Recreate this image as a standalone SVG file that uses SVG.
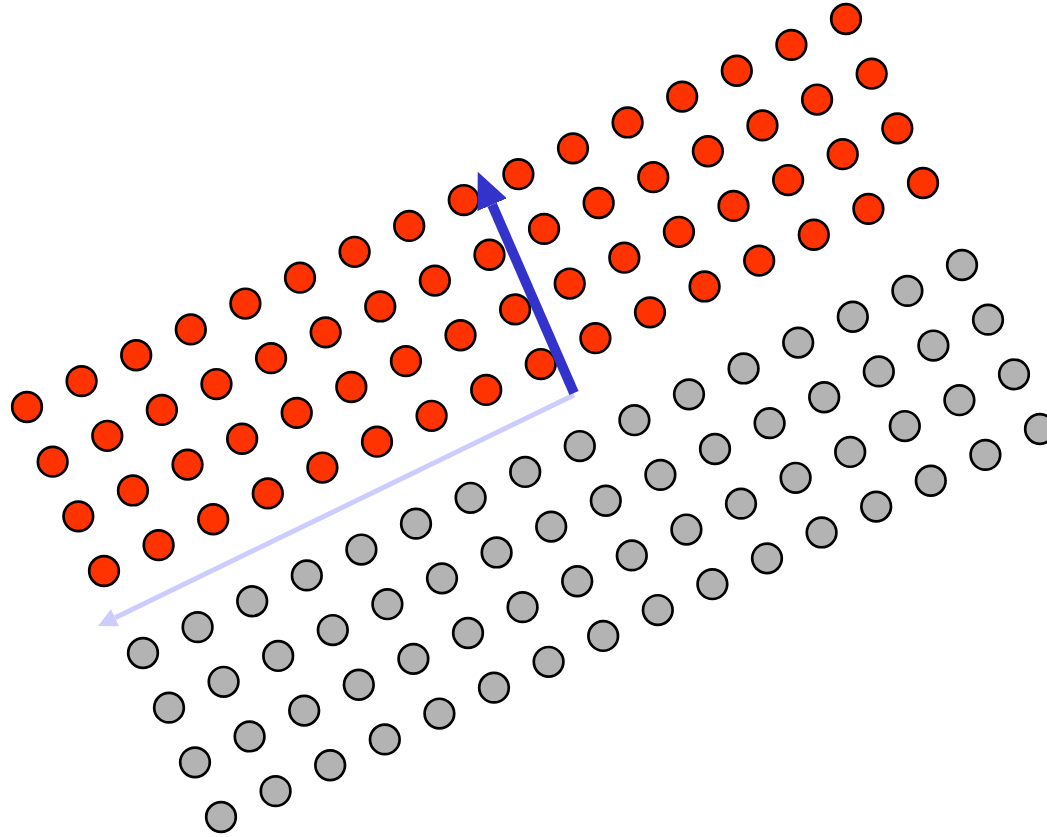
<svg xmlns="http://www.w3.org/2000/svg" xmlns:xlink="http://www.w3.org/1999/xlink" width="1047" height="837" viewBox="0 0 1047 837">
<style>
circle{stroke:#000;stroke-width:2.7;}
.red{fill:#ff3300;}
.grey{fill:#b3b3b3;}
</style>
<defs>
<g id="row">
<circle cx="0" cy="0" r="14.8"/><circle cx="54.6" cy="-25.87" r="14.8"/><circle cx="109.2" cy="-51.73" r="14.8"/><circle cx="163.8" cy="-77.6" r="14.8"/><circle cx="218.4" cy="-103.47" r="14.8"/><circle cx="273" cy="-129.33" r="14.8"/><circle cx="327.6" cy="-155.2" r="14.8"/><circle cx="382.2" cy="-181.07" r="14.8"/><circle cx="436.8" cy="-206.93" r="14.8"/><circle cx="491.4" cy="-232.8" r="14.8"/><circle cx="546" cy="-258.67" r="14.8"/><circle cx="600.6" cy="-284.53" r="14.8"/><circle cx="655.2" cy="-310.4" r="14.8"/><circle cx="709.8" cy="-336.27" r="14.8"/><circle cx="764.4" cy="-362.13" r="14.8"/><circle cx="819" cy="-388" r="14.8"/>
</g>
<marker id="headBlue" viewBox="0 -16 36 32" refX="0" refY="0" markerWidth="36" markerHeight="32" markerUnits="userSpaceOnUse" orient="auto"><path d="M0,-16 L36,0 L0,16 z" fill="#3333cc"/></marker>
<marker id="headLight" viewBox="0 -10 20 20" refX="0" refY="0" markerWidth="20" markerHeight="20" markerUnits="userSpaceOnUse" orient="auto"><path d="M0,-9.5 L19,0 L0,9.5 z" fill="#ccccff"/></marker>
</defs>
<g id="red-lattice" class="red">
<use xlink:href="#row" href="#row" transform="translate(27,407)"/>
<use xlink:href="#row" href="#row" transform="translate(52.67,461.67)"/>
<use xlink:href="#row" href="#row" transform="translate(78.33,516.33)"/>
<use xlink:href="#row" href="#row" transform="translate(104,571)"/>
</g>
<g id="grey-lattice" class="grey">
<use xlink:href="#row" href="#row" transform="translate(143,653)"/>
<use xlink:href="#row" href="#row" transform="translate(169,707.67)"/>
<use xlink:href="#row" href="#row" transform="translate(195,762.33)"/>
<use xlink:href="#row" href="#row" transform="translate(221,817)"/>
</g>
<g id="connectors">
<line x1="574" y1="395" x2="115.1" y2="617.7" stroke="#ccccff" stroke-width="5" marker-end="url(#headLight)"/>
<line x1="574" y1="393" x2="492.1" y2="204.7" stroke="#3333cc" stroke-width="10" marker-end="url(#headBlue)"/>
</g>
</svg>
